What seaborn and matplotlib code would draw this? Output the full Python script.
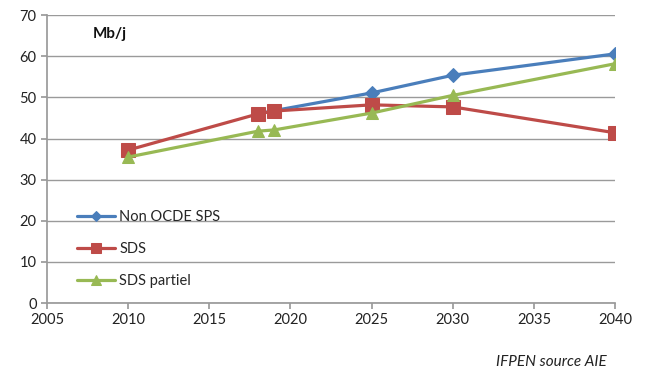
import matplotlib
matplotlib.use("Agg")
import matplotlib.pyplot as plt
import seaborn as sns
import pandas as pd

years_sps = [2018, 2019, 2025, 2030, 2040]
non_ocde_sps = [46.0, 46.8, 51.1, 55.4, 60.6]
years_sds = [2010, 2018, 2019, 2025, 2030, 2040]
sds = [37.2, 46.0, 46.7, 48.2, 47.7, 41.4]
sds_partiel = [35.5, 41.8, 42.1, 46.2, 50.5, 58.2]

series_names = ["Non OCDE SPS", "SDS", "SDS partiel"]
colors = ["#4A7EBB", "#BE4B48", "#98B954"]
markers = ["D", "s", "^"]
msizes = [7, 9.5, 9]

frames = [
    pd.DataFrame({"year": years_sps, "value": non_ocde_sps, "serie": series_names[0]}),
    pd.DataFrame({"year": years_sds, "value": sds, "serie": series_names[1]}),
    pd.DataFrame({"year": years_sds, "value": sds_partiel, "serie": series_names[2]}),
]

sns.set_theme(style="white")
plt.rcParams["font.family"] = ["Lato", "DejaVu Sans"]

fig = plt.figure(figsize=(6.5, 3.9), dpi=100)
ax = fig.add_axes([0.0723, 0.223, 0.874, 0.738])

for df, name, c, m, ms in zip(frames, series_names, colors, markers, msizes):
    sns.lineplot(data=df, x="year", y="value", ax=ax, color=c, marker=m,
                 markersize=ms, markeredgecolor=c, linewidth=2.3, label=name,
                 zorder=3)

ax.set_xlim(2005, 2040)
ax.set_ylim(0, 70)
ax.set_xticks(range(2005, 2041, 5))
ax.set_yticks(range(0, 71, 10))
ax.set_xlabel("")
ax.set_ylabel("")
ax.yaxis.grid(True, color="#9a9a9a", linewidth=1)
ax.xaxis.grid(False)
for s in ["top", "right"]:
    ax.spines[s].set_visible(False)
ax.spines["left"].set_color("#9a9a9a")
ax.spines["bottom"].set_color("#9a9a9a")
ax.tick_params(axis="both", which="both", length=4, color="#9a9a9a",
               labelsize=10.5, labelcolor="#222222", direction="out",
               bottom=True, left=True)

leg = ax.legend(loc="lower left", bbox_to_anchor=(0.03, 0.005), frameon=False,
                fontsize=10.5, labelspacing=1.25, handlelength=2.6,
                handletextpad=0.3, markerscale=0.8)

ax.text(0.08, 0.935, "Mb/j", transform=ax.transAxes, fontsize=11,
        fontweight="bold", va="center", ha="left", color="#111111")
fig.text(0.848, 0.072, "IFPEN source AIE", fontsize=11, style="italic",
         ha="center", va="center", color="#222222")

fig.savefig("out.png", dpi=100)
